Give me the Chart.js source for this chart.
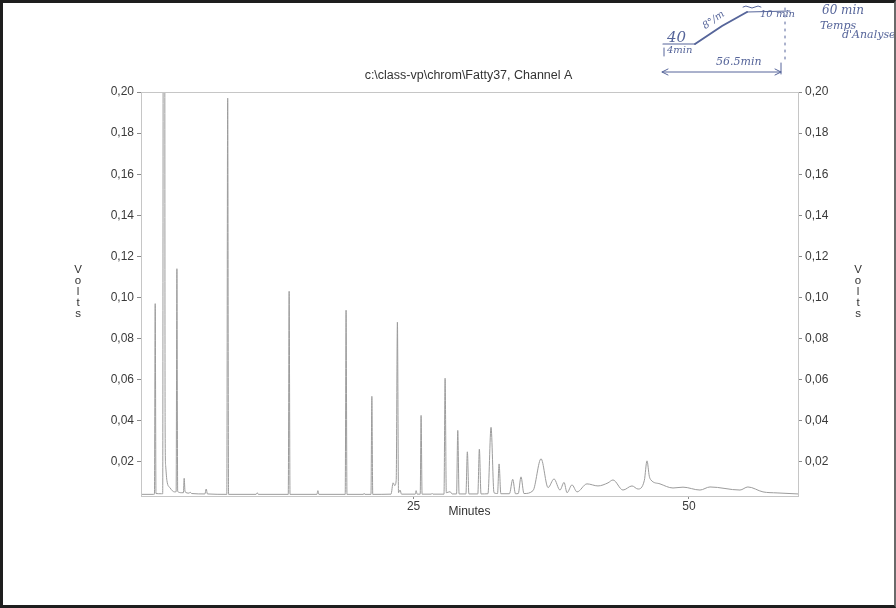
<!DOCTYPE html>
<html>
<head>
<meta charset="utf-8">
<script src="https://cdn.jsdelivr.net/npm/chart.js@4.4.0/dist/chart.umd.min.js"></script>
<style>
    html, body { margin: 0; padding: 0; background: #fff; }
    #wrap { position: relative; width: 896px; height: 608px; overflow: hidden; background: #fff; }
    #chrom { position: absolute; left: 0; top: 0; }
    #notes { position: absolute; left: 0; top: 0; }
    #frame { position: absolute; left: 0; top: 0; width: 896px; height: 608px; box-sizing: border-box;
             border: 3px solid #1e1e1e; border-right: 2px solid #6a6a6a; pointer-events: none; }
    .hw { position: absolute; font-family: "DejaVu Serif", serif; font-style: italic; color: #56659a; white-space: nowrap; }
</style>
</head>
<body>
<div id="wrap">
    <canvas id="chrom" width="896" height="608"></canvas>
    <svg id="notes" width="896" height="608" fill="none" stroke="#56659a" stroke-linecap="round">
        <path d="M663 44 L695 44" stroke-width="1.2"/>
        <path d="M695 44 L722 26 L747 12" stroke-width="2"/>
        <path d="M747 12 L790 11" stroke-width="1"/>
        <path d="M743 7 q3 -2 6 0 t6 0 t6 0" stroke-width="1"/>
        <path d="M664 48 L664 56" stroke-width="1"/>
        <path d="M662 72 L781 72 M668 69 L662 72 L668 75 M775 69 L781 72 L775 75" stroke-width="1"/>
        <path d="M781 63 L781 74" stroke-width="1"/>
        <path d="M785 8 L785 60" stroke-width="1" stroke-dasharray="2 5"/>
    </svg>
    <div class="hw" style="left:667px;top:28px;font-size:15px">40</div>
    <div class="hw" style="left:701px;top:14px;font-size:10px;transform:rotate(-35deg)">8°/m</div>
    <div class="hw" style="left:760px;top:8px;font-size:10px">10 min</div>
    <div class="hw" style="left:667px;top:44px;font-size:10px">4min</div>
    <div class="hw" style="left:716px;top:55px;font-size:11px">56.5min</div>
    <div class="hw" style="left:822px;top:3px;font-size:12px">60 min</div>
    <div class="hw" style="left:820px;top:19px;font-size:11px">Temps</div>
    <div class="hw" style="left:842px;top:28px;font-size:11px">d'Analyse</div>
    <div id="frame"></div>
</div>
<script>
(function() {
    'use strict';

    // Retention time (minutes) and detector signal (volts)
    const timeMin = [
        0.25, 1.40, 1.47, 1.54, 1.61, 2.10, 2.22,
        2.34, 2.44, 2.49, 2.60, 2.90, 3.29, 3.44, 3.51, 3.58,
        3.95, 4.10, 4.17, 4.25, 4.60, 4.72, 4.85, 6.05, 6.17, 6.28,
        8.04, 8.12, 8.20, 10.70, 10.80, 10.90, 13.62, 13.70, 13.78,
        16.22, 16.31, 16.40, 18.79, 18.87, 18.95, 20.45, 20.51, 20.57, 21.13, 21.21, 21.29,
        22.95, 23.14, 23.28, 23.42, 23.53, 23.63, 23.77, 23.90,
        25.15, 25.23, 25.32, 25.60, 25.68, 25.77, 26.62, 26.68, 26.75,
        27.76, 27.86, 27.97, 28.31, 28.50, 28.90, 29.01, 29.13, 29.75, 29.88, 30.02,
        30.83, 30.97, 31.12, 31.75, 32.03, 32.30, 32.62, 32.76, 32.92,
        33.70, 34.00, 34.25, 34.50, 34.75, 35.02, 35.84, 36.57, 37.21, 37.75, 38.29, 38.66, 38.93, 39.38, 39.84,
        40.74, 41.74, 42.65, 43.10, 44.01, 44.83, 45.37, 45.95, 46.19, 46.40, 46.55, 47.37, 48.55, 49.46,
        51.00, 51.91, 54.63, 55.35, 56.72, 58.00, 59.90
    ];
    const volts = [
        0.0042, 0.0042, 0.0043, 0.0970, 0.0046, 0.0045, 0.0045,
        0.9000, 0.0380, 0.0180, 0.0110, 0.0073, 0.0054, 0.0055, 0.1140, 0.0056,
        0.0050, 0.0050, 0.0120, 0.0055, 0.0048, 0.0052, 0.0046, 0.0044, 0.0068, 0.0044,
        0.0042, 0.1970, 0.0042, 0.0042, 0.0050, 0.0042, 0.0042, 0.1030, 0.0042,
        0.0042, 0.0060, 0.0042, 0.0042, 0.0938, 0.0042, 0.0042, 0.0047, 0.0042, 0.0042, 0.0519, 0.0042,
        0.0043, 0.0098, 0.0085, 0.0110, 0.0880, 0.0050, 0.0063, 0.0043,
        0.0043, 0.0060, 0.0043, 0.0043, 0.0426, 0.0043, 0.0043, 0.0047, 0.0043,
        0.0043, 0.0607, 0.0050, 0.0055, 0.0044, 0.0044, 0.0353, 0.0044, 0.0044, 0.0249, 0.0044,
        0.0044, 0.0262, 0.0044, 0.0045, 0.0368, 0.0050, 0.0046, 0.0190, 0.0045,
        0.0045, 0.0115, 0.0045, 0.0046, 0.0127, 0.0046, 0.0060, 0.0215, 0.0075, 0.0117, 0.0063, 0.0100, 0.0050, 0.0088, 0.0054,
        0.0093, 0.0083, 0.0098, 0.0112, 0.0063, 0.0083, 0.0068, 0.0110, 0.0205, 0.0130, 0.0112, 0.0093, 0.0073, 0.0077,
        0.0063, 0.0078, 0.0063, 0.0078, 0.0054, 0.0049, 0.0044
    ];

    const xTickValues = [25, 50];
    const yTickValues = [0.02, 0.04, 0.06, 0.08, 0.10, 0.12, 0.14, 0.16, 0.18, 0.20];

    const chartTitle = 'c:\\class-vp\\chrom\\Fatty37, Channel A';
    const xTitle = 'Minutes';
    const yTitle = 'Volts';

    const FONT = '"Liberation Sans", Arial, sans-serif';
    const commaLabel = v => v.toFixed(2).replace('.', ',');

    function yAxis(side, width) {
        return {
            type: 'linear',
            position: side,
            min: 0.0034,
            max: 0.2,
            afterBuildTicks: scale => { scale.ticks = yTickValues.map(v => ({ value: v })); },
            afterFit: scale => { scale.width = width; },
            grid: { drawOnChartArea: false, drawTicks: true, tickLength: 4, color: '#8a8a8a' },
            border: { display: false },
            ticks: { callback: commaLabel, padding: 3, color: '#3a3a3a', font: { family: FONT, size: 12 }, autoSkip: false }
        };
    }

    // Frame, title and the stacked axis captions
    const annotate = {
        id: 'annotate',
        beforeDraw(chart) {
            const ctx = chart.ctx;
            ctx.save();
            ctx.fillStyle = '#fff';
            ctx.fillRect(0, 0, chart.width, chart.height);
            ctx.restore();
        },
        afterDraw(chart) {
            const ctx = chart.ctx;
            const a = chart.chartArea;
            const cx = (a.left + a.right) / 2;
            ctx.save();
            ctx.strokeStyle = '#c6c6c6';
            ctx.lineWidth = 1;
            ctx.strokeRect(Math.round(a.left) + 0.5, Math.round(a.top) + 0.5,
                Math.round(a.right - a.left), Math.round(a.bottom - a.top));

            ctx.fillStyle = '#333';
            ctx.textAlign = 'center';
            ctx.textBaseline = 'middle';
            ctx.font = '12.5px ' + FONT;
            ctx.fillText(chartTitle, cx - 1, a.top - 16);
            ctx.font = '12px ' + FONT;
            ctx.fillText(xTitle, cx, a.bottom + 16);

            ctx.font = '11.5px ' + FONT;
            yTitle.split('').forEach((ch, i) => {
                ctx.fillText(ch, 78, 270 + i * 11);
                ctx.fillText(ch, 858, 270 + i * 11);
            });
            ctx.restore();
        }
    };

    document.addEventListener('DOMContentLoaded', function() {
        const canvas = document.getElementById('chrom');
        if (!canvas || !window.Chart) return;

        new Chart(canvas.getContext('2d'), {
            type: 'line',
            data: {
                datasets: [{
                    label: 'Channel A',
                    data: timeMin.map((t, i) => ({ x: t, y: volts[i] })),
                    borderColor: '#9c9c9c',
                    borderWidth: 1,
                    pointRadius: 0,
                    fill: false,
                    cubicInterpolationMode: 'monotone',
                    clip: 0
                }]
            },
            options: {
                responsive: false,
                animation: false,
                events: [],
                layout: { padding: { top: 92, left: 0, right: 0, bottom: 0 } },
                plugins: {
                    legend: { display: false },
                    tooltip: { enabled: false }
                },
                scales: {
                    x: {
                        type: 'linear',
                        min: 0.25,
                        max: 59.9,
                        afterBuildTicks: scale => { scale.ticks = xTickValues.map(v => ({ value: v })); },
                        afterFit: scale => { scale.height = 112; },
                        grid: { drawOnChartArea: false, drawTicks: true, tickLength: 3, color: '#8a8a8a' },
                        border: { display: false },
                        ticks: { padding: 0, maxRotation: 0, color: '#3a3a3a', font: { family: FONT, size: 12 } }
                    },
                    y: yAxis('left', 141),
                    y2: yAxis('right', 98)
                }
            },
            plugins: [annotate]
        });
    });
})();
</script>
</body>
</html>
